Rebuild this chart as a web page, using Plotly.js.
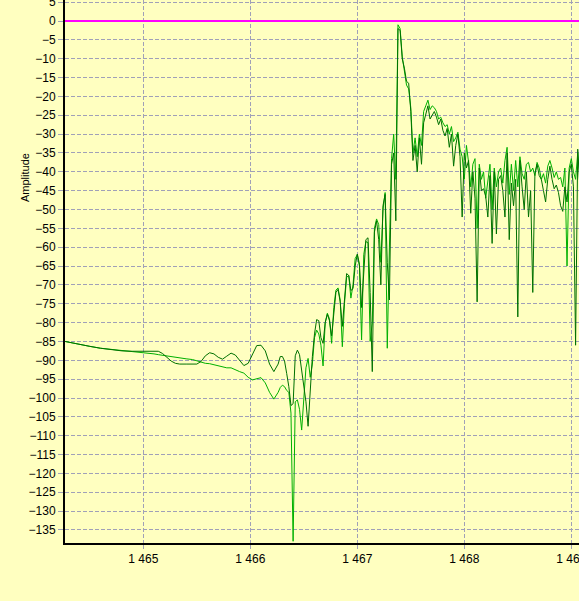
<!DOCTYPE html>
<html>
<head>
<meta charset="utf-8">
<script src="https://cdn.plot.ly/plotly-3.0.1.min.js"></script>
<style>
html,body{margin:0;padding:0;background:#FFFFC0;}
#chart{width:579px;height:601px;}
</style>
</head>
<body>
<div id="chart"></div>
<script>
// Frequency positions (x) shared by both series
const freq = [
  1464.268,1464.40,1464.50,1464.60,1464.70,1464.80,1464.90,1465.00,1465.10,1465.14,
  1465.18,1465.22,1465.26,1465.30,1465.34,1465.40,1465.46,1465.50,1465.54,1465.58,
  1465.62,1465.66,1465.70,1465.74,1465.78,1465.82,1465.86,1465.90,1465.94,1465.98,
  1466.02,1466.06,1466.10,1466.14,1466.18,1466.22,1466.26,
  1466.28,1466.30,1466.32,1466.34,1466.36,1466.38,1466.40,1466.42,1466.44,1466.46,
  1466.48,1466.50,1466.52,1466.54,1466.56,1466.58,1466.60,1466.62,1466.64,1466.66,
  1466.68,1466.70,1466.72,1466.74,1466.76,1466.78,1466.80,1466.82,1466.84,1466.86,
  1466.88,1466.90,1466.92,1466.94,1466.96,1466.98,1467.00,1467.02,1467.04,1467.06,
  1467.08,1467.10,1467.12,1467.14,1467.16,1467.18,1467.20,1467.22,1467.24,1467.26,
  1467.28,1467.30,1467.32,1467.34,1467.36,1467.38,1467.40,1467.42,1467.44,1467.46,
  1467.48,1467.50,1467.52,1467.54,1467.56,1467.58,1467.60,1467.62,1467.64,1467.66,
  1467.68,1467.70,1467.72,1467.74,1467.76,1467.78,1467.80,1467.82,1467.84,1467.86,
  1467.88,1467.90,1467.92,1467.94,1467.96,1467.98,1468.00,1468.02,1468.04,1468.06,
  1468.08,1468.10,1468.12,1468.14,1468.16,1468.18,1468.20,1468.22,1468.24,1468.26,
  1468.28,1468.30,1468.32,1468.34,1468.36,1468.38,1468.40,1468.42,1468.44,1468.46,
  1468.48,1468.50,1468.52,1468.54,1468.56,1468.58,1468.60,1468.62,1468.64,1468.66,
  1468.68,1468.70,1468.72,1468.74,1468.76,1468.78,1468.80,1468.82,1468.84,1468.86,
  1468.88,1468.90,1468.92,1468.94,1468.96,1468.98,1469.00,1469.02,1469.04,1469.06,
  1469.08
];

// Dark green series amplitude
const ampDark = [
  -85.0,-85.8,-86.3,-86.8,-87.2,-87.5,-87.6,-87.6,-87.6,-87.6,
  -88.2,-89.2,-90.2,-90.8,-91.0,-91.0,-91.0,-91.0,-90.3,-88.8,
  -88.0,-88.3,-89.2,-89.7,-88.9,-88.1,-88.6,-90.0,-91.4,-90.8,
  -88.5,-86.1,-86.0,-87.5,-91.0,-93.0,-91.0,
  -89.0,-89.0,-90.2,-93.5,-97.0,-102.0,-101.5,-88.8,-87.3,-88.5,
  -92.5,-97.5,-101.0,-107.5,-98.0,-89.0,-83.0,-79.2,-79.5,-84.0,
  -85.5,-80.0,-77.8,-79.5,-83.5,-78.5,-72.0,-71.2,-74.5,-81.0,
  -73.0,-67.0,-67.5,-71.5,-71.0,-65.0,-61.8,-64.5,-76.0,-68.0,
  -58.0,-57.5,-72.0,-93.0,-56.0,-53.0,-58.0,-70.0,-49.0,-46.0,
  -64.0,-74.0,-38.0,-35.0,-53.0,-2.0,-2.5,-10.0,-12.5,-16.0,
  -16.5,-24.0,-37.0,-33.0,-40.0,-31.0,-38.0,-27.0,-24.5,-22.5,
  -26.0,-25.0,-24.0,-25.5,-27.5,-26.0,-29.0,-30.5,-28.5,-33.5,
  -30.0,-38.5,-33.0,-30.0,-36.0,-52.0,-35.0,-39.0,-37.0,-51.0,
  -40.0,-47.0,-74.5,-39.0,-45.0,-44.5,-46.5,-52.0,-41.0,-59.0,
  -40.0,-56.5,-42.0,-41.0,-45.0,-52.0,-35.0,-58.0,-43.0,-49.0,
  -42.0,-78.5,-37.0,-44.0,-50.0,-40.0,-52.0,-45.0,-72.0,-40.5,
  -38.0,-41.0,-42.0,-45.0,-48.0,-42.0,-38.5,-42.0,-44.5,-43.5,
  -45.5,-49.0,-50.5,-44.0,-48.0,-40.0,-38.0,-44.0,-86.0,-34.0,
  -44.0
];

// Bright green series amplitude
const ampBright = [
  -85.0,-85.8,-86.3,-86.8,-87.1,-87.3,-87.5,-87.8,-88.3,-88.5,
  -88.7,-88.9,-89.1,-89.3,-89.5,-89.6,-89.8,-90.2,-90.6,-90.8,
  -90.9,-91.2,-91.6,-91.9,-92.0,-92.0,-92.6,-93.0,-93.4,-94.5,
  -95.2,-95.0,-94.6,-96.0,-98.5,-100.3,-98.5,
  -97.2,-96.6,-97.0,-98.0,-98.5,-104.0,-138.0,-101.0,-100.5,-103.0,
  -108.5,-99.0,-92.0,-89.5,-94.5,-91.0,-84.0,-82.0,-83.0,-86.0,
  -91.5,-80.0,-77.5,-79.0,-85.5,-76.0,-71.4,-70.8,-74.0,-86.4,
  -75.0,-68.0,-67.5,-73.5,-70.0,-63.0,-62.0,-65.0,-84.6,-62.0,
  -58.5,-58.8,-85.0,-80.0,-55.0,-52.5,-54.0,-64.0,-50.0,-45.5,
  -86.8,-60.0,-36.5,-30.0,-42.0,-1.0,-2.0,-9.5,-13.0,-17.0,
  -18.0,-23.0,-35.0,-31.0,-36.0,-30.0,-33.0,-24.0,-22.5,-21.0,
  -23.5,-22.5,-23.0,-24.0,-26.0,-25.5,-27.0,-28.0,-27.5,-30.0,
  -28.0,-32.0,-31.0,-29.5,-34.0,-36.0,-42.0,-33.0,-37.5,-44.0,
  -38.0,-36.5,-55.0,-38.0,-42.0,-40.0,-47.0,-42.0,-38.0,-50.0,
  -39.0,-44.0,-40.0,-39.0,-43.0,-37.0,-33.5,-46.0,-38.0,-45.0,
  -37.0,-44.0,-36.0,-40.5,-42.0,-38.0,-37.5,-40.0,-39.0,-41.0,
  -37.5,-39.0,-42.0,-40.5,-43.0,-38.5,-37.0,-39.0,-41.5,-40.0,
  -42.0,-41.5,-44.0,-39.0,-65.0,-39.0,-36.5,-40.0,-42.0,-35.0,
  -41.0
];

// Reference level (magenta line)
const refLevel = 0;

// Axis ticks
const xTickVals = [1465, 1466, 1467, 1468, 1469];
const xTickText = ['1 465', '1 466', '1 467', '1 468', '1 469'];
const yTickVals = [5,0,-5,-10,-15,-20,-25,-30,-35,-40,-45,-50,-55,-60,-65,-70,-75,-80,-85,-90,-95,-100,-105,-110,-115,-120,-125,-130,-135];
const xRange = [1464.268, 1469.072];
const yRange = [-138.46, 5.57];

const traces = [
  {x: freq, y: ampBright, type: 'scatter', mode: 'lines',
   line: {color: '#00B000', width: 1}, hoverinfo: 'skip'},
  {x: freq, y: ampDark, type: 'scatter', mode: 'lines',
   line: {color: '#007000', width: 1}, hoverinfo: 'skip'},
  {x: xRange, y: [refLevel, refLevel], type: 'scatter', mode: 'lines',
   line: {color: '#FF00FF', width: 2}, hoverinfo: 'skip'}
];

const layout = {
  width: 579, height: 601,
  margin: {l: 65, r: 0, t: 0, b: 58, pad: 0},
  paper_bgcolor: '#FFFFC0',
  plot_bgcolor: '#FFFFC0',
  showlegend: false,
  font: {family: 'Arial, "Liberation Sans", sans-serif', size: 12, color: '#000'},
  xaxis: {
    range: xRange, tickmode: 'array', tickvals: xTickVals, ticktext: xTickText,
    showgrid: true, gridcolor: '#a0a0b8', griddash: '4px,2px', gridwidth: 1,
    ticks: 'outside', ticklen: 4, tickcolor: '#a0a0b8',
    showline: true, linecolor: '#000', linewidth: 2,
    zeroline: false, fixedrange: true, ticklabeloverflow: 'allow',
    tickfont: {size: 12, color: '#000'}
  },
  yaxis: {
    range: yRange, tickmode: 'array', tickvals: yTickVals,
    showgrid: true, gridcolor: '#a0a0b8', griddash: '4px,2px', gridwidth: 1,
    ticks: 'outside', ticklen: 5, tickcolor: '#a0a0b8',
    showline: true, linecolor: '#000', linewidth: 2,
    zeroline: false, fixedrange: true, ticklabeloverflow: 'allow',
    tickfont: {size: 12, color: '#000'}
  },
  annotations: [{
    text: 'Amplitude', xref: 'paper', yref: 'paper',
    x: (25 - 65) / 514, y: 1 - 178 / 543, xanchor: 'center', yanchor: 'middle',
    textangle: -90, showarrow: false,
    font: {size: 11, color: '#000', family: 'Arial, "Liberation Sans", sans-serif'}
  }]
};

Plotly.newPlot('chart', traces, layout, {displayModeBar: false, staticPlot: true});
</script>
</body>
</html>
